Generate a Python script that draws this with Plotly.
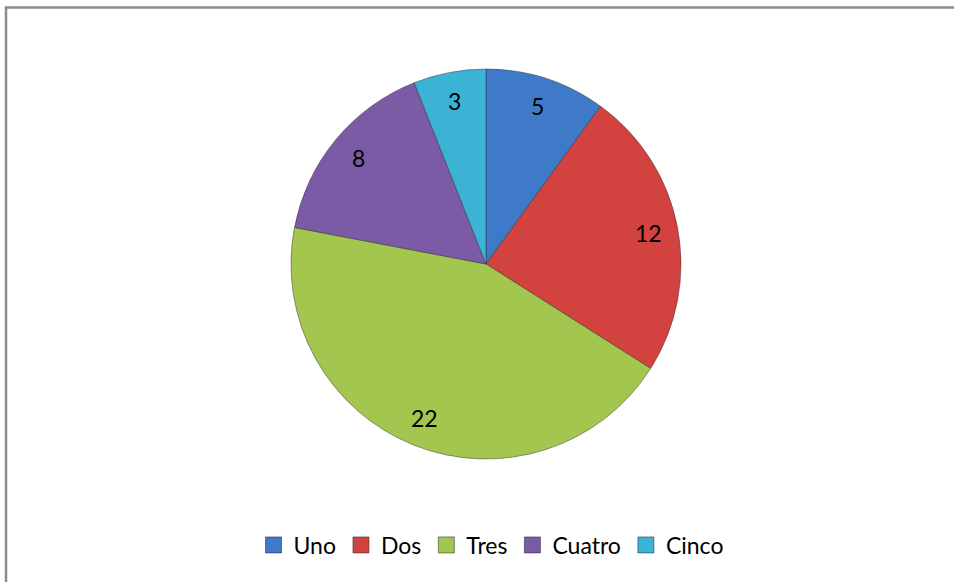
import math
import plotly.graph_objects as go

# Data
categories = ["Uno", "Dos", "Tres", "Cuatro", "Cinco"]
values = [5, 12, 22, 8, 3]
colors = ["#3F7AC8", "#D2423F", "#A3C64E", "#7C5BA6", "#3AB3D4"]

W, H = 954, 582
cx_px, cy_px, radius_px = 486, 264, 195
FONT = "Lato, Carlito, sans-serif"

fig = go.Figure()
fig.add_trace(go.Pie(
    labels=categories,
    values=values,
    sort=False,
    direction="clockwise",
    rotation=0,
    marker=dict(colors=colors, line=dict(color="rgba(40,40,40,0.45)", width=1)),
    textinfo="none",
    hoverinfo="label+value",
    showlegend=False,
    domain=dict(x=[(cx_px - radius_px) / W, (cx_px + radius_px) / W],
                y=[(H - cy_px - radius_px) / H, (H - cy_px + radius_px) / H]),
))

# Legend entries with larger square swatches
for name, col in zip(categories, colors):
    fig.add_trace(go.Scatter(
        x=[None], y=[None], mode="markers", name=name,
        marker=dict(symbol="square", size=16, color=col,
                    line=dict(color="rgba(30,30,30,0.5)", width=1)),
        showlegend=True, hoverinfo="skip",
    ))

# Value labels placed along each slice's mid-angle
total = sum(values)
cum = 0
annotations = []
for v in values:
    mid = (cum + v / 2) / total * 2 * math.pi
    cum += v
    r = 0.85 * radius_px
    x_px = cx_px + r * math.sin(mid)
    y_px = cy_px - r * math.cos(mid)
    annotations.append(dict(
        x=x_px / W, y=1 - y_px / H, xref="paper", yref="paper",
        text=str(v), showarrow=False,
        font=dict(family=FONT, size=23, color="#000000"),
        xanchor="center", yanchor="middle",
    ))

fig.update_layout(
    width=W, height=H,
    margin=dict(l=0, r=0, t=0, b=0),
    paper_bgcolor="white",
    plot_bgcolor="white",
    showlegend=True,
    xaxis=dict(visible=False),
    yaxis=dict(visible=False),
    legend=dict(
        orientation="h", x=491 / W, xanchor="center", y=1 - 545 / H, yanchor="middle",
        font=dict(family=FONT, size=23, color="#000000"),
        itemwidth=30, traceorder="normal", itemsizing="trace",
    ),
    annotations=annotations,
    shapes=[dict(
        type="rect", xref="paper", yref="paper",
        x0=6 / W, x1=1.02, y0=-0.05, y1=1 - 7.5 / H,
        line=dict(color="#8C8C8C", width=2.5), fillcolor="rgba(0,0,0,0)",
        layer="below",
    )],
)

fig.write_html("out.html")
